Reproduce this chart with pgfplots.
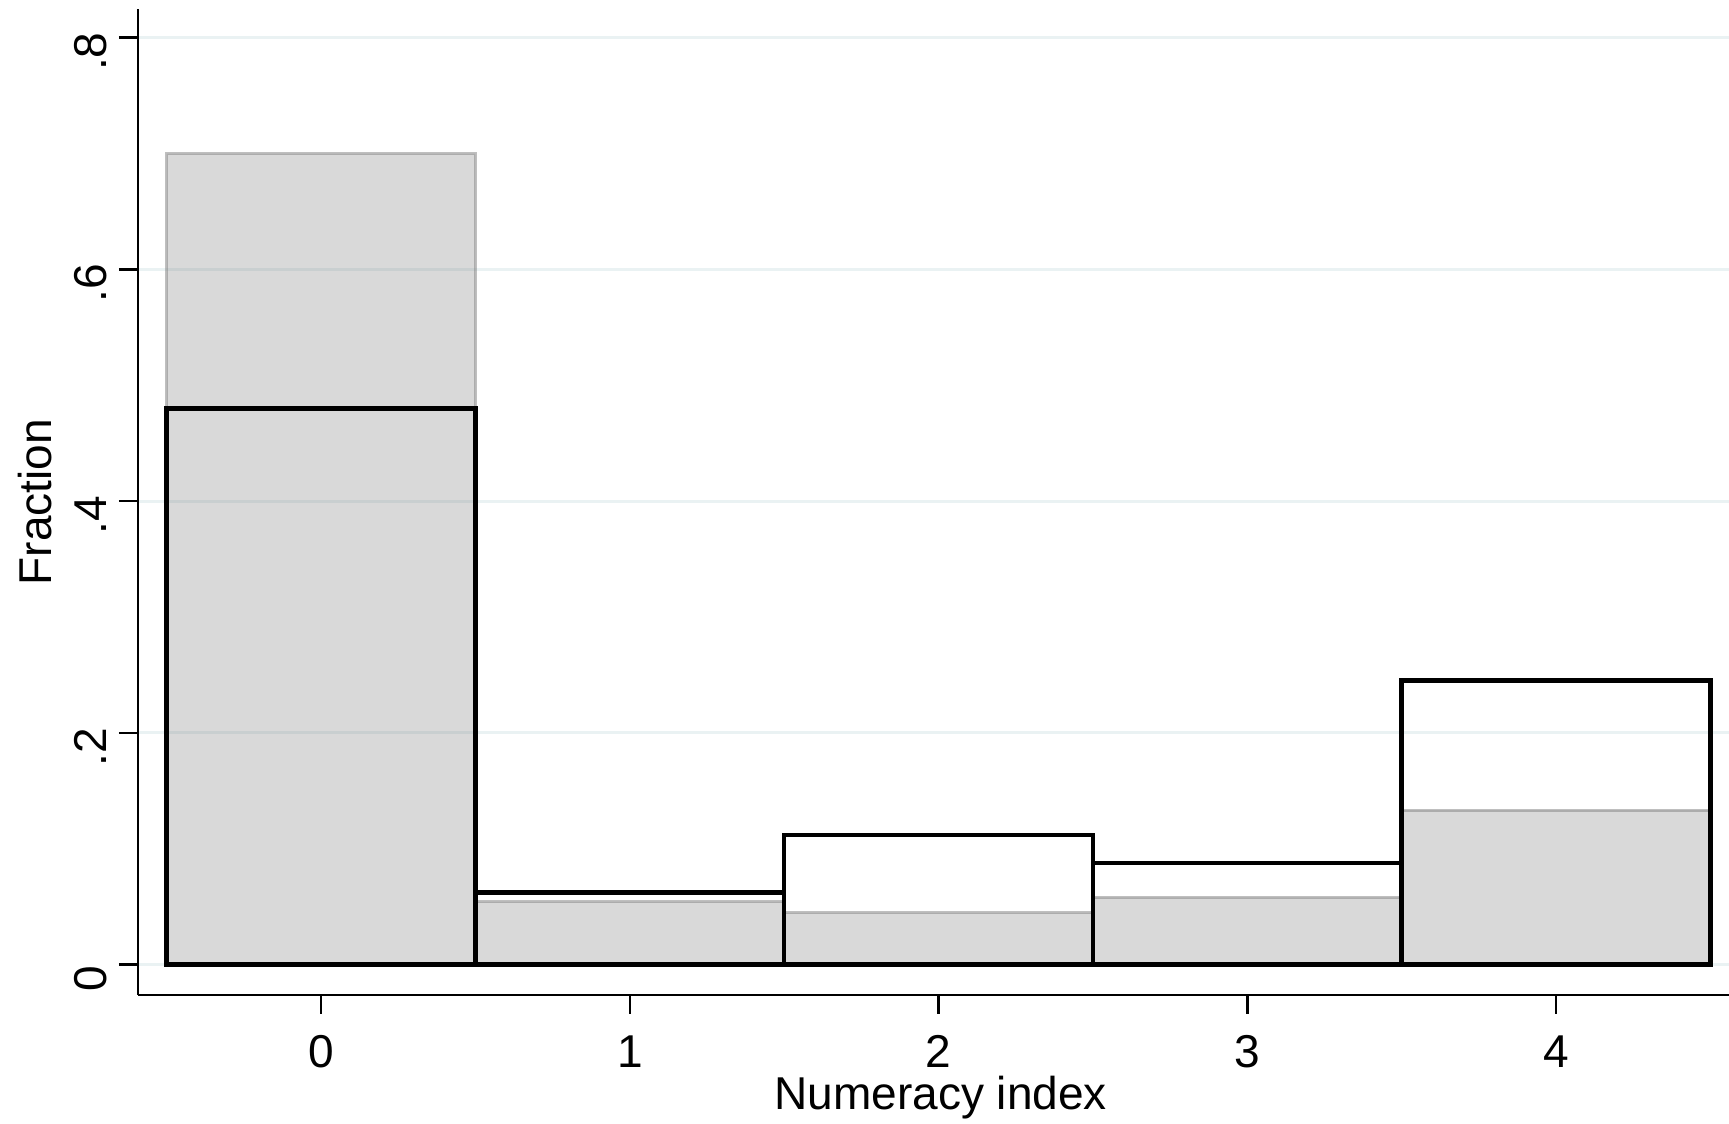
\documentclass[border=0pt]{standalone}
\usepackage{fontspec}
\setmainfont{Liberation Sans}
\usepackage{pgfplots}
\pgfplotsset{compat=1.18}
\definecolor{gridc}{HTML}{EAF2F3}
\begin{document}
\begin{tikzpicture}
\begin{axis}[
  at={(13.8mm,12.9mm)}, anchor=south west,
  scale only axis, width=159.1mm, height=98.6mm,
  xmin=-0.593, xmax=4.56, ymin=-0.0263, ymax=0.8248,
  axis x line=bottom, axis y line=left,
  axis line style={-, line width=0.27mm, black},
  xtick={0,1,2,3,4}, xticklabels={0,1,2,3,4},
  ytick={0,0.2,0.4,0.6,0.8}, yticklabels={0,.2,.4,.6,.8},
  tick align=outside, major tick length=1.9mm,
  tick style={line width=0.25mm, black},
  ymajorgrids, grid style={line width=0.3mm, gridc},
  font=\fontsize{13.1}{15}\selectfont,
  yticklabel style={rotate=90, anchor=south, xshift=-1.4mm},
  xticklabel style={yshift=-0.9mm},
  xlabel={Numeracy index}, ylabel={Fraction},
  xlabel style={at={(axis description cs:0.5045,-0.1045)}, anchor=center},
  ylabel style={at={(axis description cs:-0.0645,0.5)}, anchor=center},
]
\addplot[ybar interval, fill=black!50, fill opacity=0.3, draw=black!50, draw opacity=0.5, line width=0.3mm]
  coordinates {(-0.5,0.700) (0.5,0.0543) (1.5,0.0448) (2.5,0.058) (3.5,0.1333) (4.5,0.1333)};
\addplot[ybar interval, fill=none, draw=black, line width=0.45mm]
  coordinates {(-0.5,0.480) (0.5,0.062) (1.5,0.112) (2.5,0.0876) (3.5,0.245) (4.5,0.245)};
\end{axis}
\pgfresetboundingbox
\useasboundingbox (0,0) rectangle (172.9mm,112.4mm);
\end{tikzpicture}
\end{document}
